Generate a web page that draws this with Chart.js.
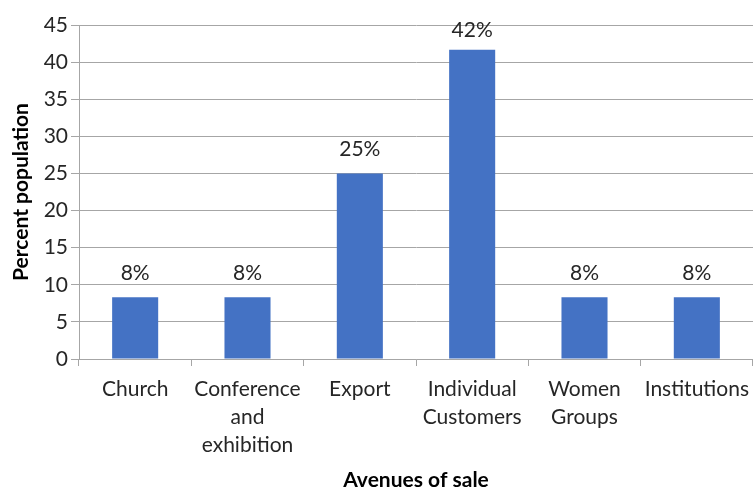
<!DOCTYPE html>
<html>
<head>
<meta charset="utf-8">
<script src="https://cdn.jsdelivr.net/npm/chart.js@4"></script>
<style>
  html, body { margin: 0; padding: 0; background: #fff; }
  #wrap { width: 753px; height: 491px; }
</style>
</head>
<body>
<div id="wrap"><canvas id="salesChart"></canvas></div>
<script>
// avenues of sale and share of respondents (%)
const categories = [
  'Church',
  ['Conference', 'and', 'exhibition'],
  'Export',
  ['Individual', 'Customers'],
  ['Women', 'Groups'],
  'Institutions'
];
const percentValues = [8.33, 8.33, 25, 41.67, 8.33, 8.33];
const yTicks = [0, 5, 10, 15, 20, 25, 30, 35, 40, 45];

const FONT = 'Lato, "Open Sans", sans-serif';
const TEXT = '#262626';
const GRID = '#a6a6a6';

// draws "NN%" above each bar, kept inside the plot area
const valueLabels = {
  id: 'valueLabels',
  afterDatasetsDraw(chart) {
    const ctx = chart.ctx;
    const meta = chart.getDatasetMeta(0);
    const top = chart.chartArea.top;
    ctx.save();
    ctx.font = '21px ' + FONT;
    ctx.fillStyle = TEXT;
    ctx.textAlign = 'center';
    ctx.textBaseline = 'middle';
    meta.data.forEach((bar, i) => {
      const y = Math.max(bar.y - 24, top + 5);
      ctx.fillText(Math.round(percentValues[i]) + '%', bar.x, y);
    });
    ctx.restore();
  }
};

const ctx = document.getElementById('salesChart').getContext('2d');
window.salesChart = new Chart(ctx, {
  type: 'bar',
  data: {
    labels: categories,
    datasets: [{
      data: percentValues,
      backgroundColor: '#4472C4',
      categoryPercentage: 1,
      barPercentage: 0.41
    }]
  },
  options: {
    responsive: true,
    maintainAspectRatio: false,
    animation: false,
    layout: { padding: { top: 25, right: 0, left: 0, bottom: 0 } },
    plugins: { legend: { display: false }, tooltip: { enabled: false } },
    scales: {
      x: {
        offset: true,
        afterFit(axis) { axis.height = 132; axis.paddingRight = 0; },
        grid: {
          offset: true,
          drawOnChartArea: false,
          drawTicks: true,
          tickLength: 7,
          color: GRID
        },
        border: { color: GRID },
        ticks: {
          color: TEXT,
          font: { family: FONT, size: 21, lineHeight: 1.33 },
          maxRotation: 0,
          autoSkip: false,
          padding: 9
        },
        title: {
          display: true,
          text: 'Avenues of sale',
          color: '#000',
          font: { family: FONT, size: 21, weight: 'bold', lineHeight: 1 },
          padding: { top: 0, bottom: 0 }
        }
      },
      y: {
        min: 0,
        max: 45,
        afterBuildTicks(axis) { axis.ticks = yTicks.map(v => ({ value: v })); },
        afterFit(axis) { axis.width = 79; },
        grid: { color: GRID, tickLength: 8 },
        border: { color: GRID },
        ticks: {
          color: TEXT,
          font: { family: FONT, size: 21 },
          padding: 3
        },
        title: {
          display: true,
          text: 'Percent population',
          color: '#000',
          font: { family: FONT, size: 21, weight: 'bold', lineHeight: 1 },
          padding: { top: 11, bottom: 0 }
        }
      }
    }
  },
  plugins: [valueLabels]
});
</script>
</body>
</html>
